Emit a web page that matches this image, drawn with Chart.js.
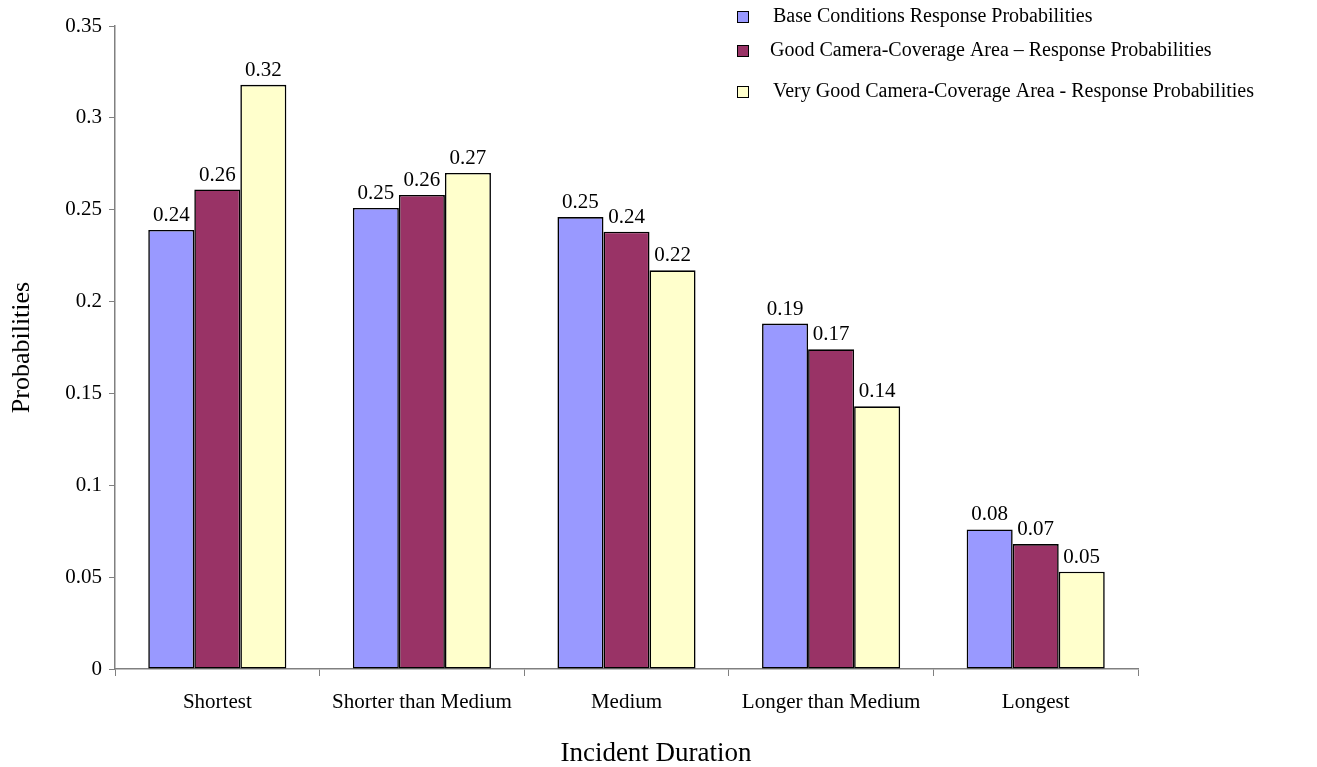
<!DOCTYPE html>
<html>
<head>
<meta charset="utf-8">
<title>Incident Duration Response Probabilities</title>
<script src="https://cdn.jsdelivr.net/npm/chart.js@4.4.1/dist/chart.umd.min.js"></script>
<style>
  html, body { margin: 0; padding: 0; background: #ffffff; }
  #wrap { width: 1317px; height: 767px; position: relative; }
</style>
</head>
<body>
<div id="wrap"><canvas id="chart" width="1317" height="767"></canvas></div>
<script>
const categories = ['Shortest', 'Shorter than Medium', 'Medium', 'Longer than Medium', 'Longest'];
const baseProbabilities = [0.239, 0.251, 0.246, 0.188, 0.076];
const goodCoverageProbabilities = [0.261, 0.258, 0.238, 0.174, 0.068];
const veryGoodCoverageProbabilities = [0.318, 0.270, 0.217, 0.143, 0.053];
const seriesNames = [
  'Base Conditions Response Probabilities',
  'Good Camera-Coverage Area \u2013 Response Probabilities',
  'Very Good Camera-Coverage Area - Response Probabilities'
];
const yTicks = [0, 0.05, 0.1, 0.15, 0.2, 0.25, 0.3, 0.35];
const xAxisTitle = 'Incident Duration';

const FONT = '"Liberation Serif", "DejaVu Serif", serif';
const colors = ['#9999FF', '#993366', '#FFFFCC'];
const axisGray = '#808080';

// value labels above each bar
const valueLabels = {
  id: 'valueLabels',
  afterDatasetsDraw(chart) {
    const ctx = chart.ctx;
    ctx.save();
    ctx.font = '21px ' + FONT;
    ctx.fillStyle = '#000';
    ctx.textAlign = 'center';
    ctx.textBaseline = 'bottom';
    chart.data.datasets.forEach((ds, i) => {
      chart.getDatasetMeta(i).data.forEach((bar, j) => {
        ctx.fillText(ds.data[j].toFixed(2), bar.x, bar.y - 4);
      });
    });
    ctx.restore();
  }
};

// stacked legend in the upper right corner, plus the x-axis caption
const cornerLegend = {
  id: 'cornerLegend',
  afterDraw(chart) {
    const ctx = chart.ctx;
    const rows = [
      { y: 17, boxX: 737, textX: 773 },
      { y: 51, boxX: 737, textX: 770 },
      { y: 92, boxX: 737, textX: 773 }
    ];
    ctx.save();
    ctx.font = '20px ' + FONT;
    ctx.textBaseline = 'middle';
    ctx.textAlign = 'left';
    chart.data.datasets.forEach((ds, i) => {
      const r = rows[i];
      ctx.fillStyle = ds.backgroundColor;
      ctx.fillRect(r.boxX, r.y - 6, 12, 12);
      ctx.strokeStyle = '#000';
      ctx.lineWidth = 1;
      ctx.strokeRect(r.boxX + 0.5, r.y - 5.5, 11, 11);
      ctx.fillStyle = '#000';
      ctx.fillText(ds.label, r.textX, r.y);
    });
    ctx.font = '27px ' + FONT;
    ctx.textAlign = 'center';
    ctx.fillText(xAxisTitle, 656, 754);
    ctx.restore();
  }
};

new Chart(document.getElementById('chart'), {
  type: 'bar',
  data: {
    labels: categories,
    datasets: [
      { label: seriesNames[0], data: baseProbabilities, backgroundColor: colors[0] },
      { label: seriesNames[1], data: goodCoverageProbabilities, backgroundColor: colors[1] },
      { label: seriesNames[2], data: veryGoodCoverageProbabilities, backgroundColor: colors[2] }
    ].map(d => Object.assign(d, {
      borderColor: '#000',
      borderWidth: 1.6,
      borderSkipped: false,
      categoryPercentage: 0.675,
      barPercentage: 1.0
    }))
  },
  options: {
    responsive: false,
    animation: false,
    devicePixelRatio: 1,
    layout: { padding: { left: 0, right: 179, top: 26, bottom: 0 } },
    plugins: {
      legend: { display: false },
      tooltip: { enabled: false }
    },
    scales: {
      x: {
        grid: { display: true, offset: true, drawOnChartArea: false, tickLength: 7, color: axisGray, lineWidth: 1 },
        border: { display: true, color: axisGray, width: 1.5 },
        ticks: { color: '#000', font: { family: FONT, size: 21 }, padding: 14, maxRotation: 0, autoSkip: false },
        title: { display: false },
        afterFit(scale) { scale.height = 98; }
      },
      y: {
        min: 0,
        max: 0.35,
        afterBuildTicks(scale) { scale.ticks = yTicks.map(v => ({ value: v })); },
        grid: { display: true, drawOnChartArea: false, tickLength: 6, color: axisGray, lineWidth: 1 },
        border: { display: true, color: axisGray, width: 1.5 },
        ticks: {
          color: '#000',
          font: { family: FONT, size: 21 },
          padding: 7,
          callback: v => String(Math.round(v * 100) / 100)
        },
        title: { display: true, text: 'Probabilities', color: '#000', font: { family: FONT, size: 26 }, padding: { top: 7, bottom: 0 } },
        afterFit(scale) { scale.width = 115; }
      }
    }
  },
  plugins: [valueLabels, cornerLegend]
});
</script>
</body>
</html>
